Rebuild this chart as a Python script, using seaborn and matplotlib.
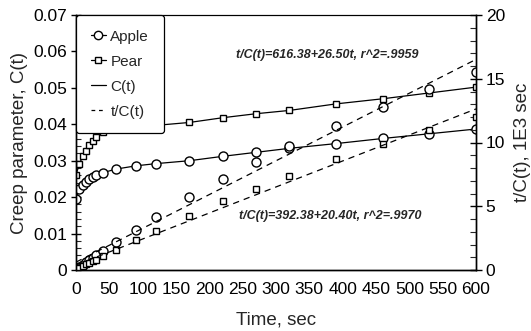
import numpy as np
import pandas as pd
import matplotlib
matplotlib.use("Agg")
import matplotlib.pyplot as plt
import seaborn as sns
from matplotlib.lines import Line2D
from matplotlib.ticker import MultipleLocator

sns.set_theme(style="white")
plt.rcParams['font.family'] = ['Liberation Sans', 'DejaVu Sans']

time_s = [0, 5, 10, 15, 20, 25, 30, 40, 60, 90, 120, 170, 220, 270, 320, 390, 460, 530, 600]
apple_c = [0.0195, 0.0222, 0.0233, 0.0242, 0.0249, 0.0255, 0.0260, 0.0267, 0.0277, 0.0286,
           0.0292, 0.0300, 0.0312, 0.0323, 0.0334, 0.0347, 0.0361, 0.0374, 0.0387]
pear_c = [0.0262, 0.0290, 0.0313, 0.0328, 0.0342, 0.0355, 0.0365, 0.0378, 0.0387, 0.0392,
          0.0397, 0.0405, 0.0418, 0.0429, 0.0438, 0.0456, 0.0470, 0.0486, 0.0502]
apple_tc = [0, 0.23, 0.43, 0.62, 0.80, 0.98, 1.15, 1.50, 2.2, 3.15, 4.15, 5.7, 7.15, 8.5,
            9.7, 11.3, 12.8, 14.2, 15.5]
pear_tc = [0, 0.17, 0.32, 0.46, 0.58, 0.70, 0.82, 1.06, 1.55, 2.35, 3.05, 4.2, 5.4, 6.35,
           7.35, 8.7, 9.85, 11.0, 12.0]
fit_names = ["Apple", "Pear"]
fit_intercepts = [616.38, 392.38]
fit_slopes = [26.50, 20.40]
fit_labels = ["t/C(t)=616.38+26.50t, r^2=.9959", "t/C(t)=392.38+20.40t, r^2=.9970"]
x_ticks = [0, 50, 100, 150, 200, 250, 300, 350, 400, 450, 500, 550, 600]
y_ticks = [0, 0.01, 0.02, 0.03, 0.04, 0.05, 0.06, 0.07]
y_tick_labels = ["0", "0.01", "0.02", "0.03", "0.04", "0.05", "0.06", "0.07"]
y2_ticks = [0, 5, 10, 15, 20]

df = pd.DataFrame({
    "t": time_s * 2,
    "C": apple_c + pear_c,
    "tC": apple_tc + pear_tc,
    "fruit": ["Apple"] * len(time_s) + ["Pear"] * len(time_s),
})
tfit = np.array([0, 600])
fit_df = pd.DataFrame({
    "t": np.concatenate([tfit, tfit]),
    "y": np.concatenate([(fit_intercepts[i] + fit_slopes[i] * tfit) / 1000 for i in range(2)]),
    "fruit": ["Apple", "Apple", "Pear", "Pear"],
})

fig = plt.figure(figsize=(5.31, 3.31), dpi=100)
ax = fig.add_axes([76 / 531, 1 - 270 / 331, (476 - 76) / 531, (270 - 15) / 331])
ax2 = ax.twinx()

markers = {"Apple": "o", "Pear": "s"}
sizes = {"Apple": 6.5, "Pear": 3.8}
for f in fit_names:
    sub = df[df.fruit == f]
    sns.lineplot(data=sub, x="t", y="C", ax=ax, color="black", lw=0.9, marker=markers[f],
                 markersize=sizes[f], markerfacecolor="white", markeredgecolor="black",
                 markeredgewidth=1.0, legend=False)
    sns.lineplot(data=sub, x="t", y="tC", ax=ax2, color="black", lw=0, marker=markers[f],
                 markersize=sizes[f], markerfacecolor="white", markeredgecolor="black",
                 markeredgewidth=1.0, legend=False)
    fsub = fit_df[fit_df.fruit == f]
    sns.lineplot(data=fsub, x="t", y="y", ax=ax2, color="black", lw=0.9, legend=False,
                 linestyle=(0, (5, 4)))

ax.set_xlim(0, 600)
ax.set_ylim(0, 0.07)
ax2.set_ylim(0, 20)
ax.set_xticks(x_ticks)
ax.xaxis.set_minor_locator(MultipleLocator(10))
ax.set_yticks(y_ticks)
ax.set_yticklabels(y_tick_labels)
ax.yaxis.set_minor_locator(MultipleLocator(0.002))
ax2.set_yticks(y2_ticks)
ax2.yaxis.set_minor_locator(MultipleLocator(1))

fs = 12.5
ax.tick_params(axis="y", which="major", direction="inout", length=7, width=1,
               labelsize=fs, colors="black", pad=3, right=False)
ax.tick_params(axis="y", which="minor", direction="in", length=3.5, width=0.8, right=False)
ax.tick_params(axis="x", which="major", direction="in", length=5, width=1,
               labelsize=fs, colors="black", pad=9, top=False)
ax.tick_params(axis="x", which="minor", direction="in", length=3, width=0.8, top=False)
ax2.tick_params(axis="y", which="major", direction="inout", length=8, width=1,
                labelsize=fs, colors="black", pad=3)
ax2.tick_params(axis="y", which="minor", direction="in", length=4, width=0.8)
ax2.tick_params(axis="x", which="both", bottom=False, top=False)

for a in (ax, ax2):
    for s in a.spines.values():
        s.set_color("black")
        s.set_linewidth(1.0)
    a.spines["top"].set_linewidth(0.8)

ax.set_xlabel("Time, sec", fontsize=13.5, labelpad=10)
ax.set_ylabel("Creep parameter, C(t)", fontsize=13.5, labelpad=4)
ax2.set_ylabel("t/C(t), 1E3 sec", fontsize=13.5, labelpad=6)

ax2.text(0.628, 0.843, fit_labels[0], transform=ax.transAxes, fontsize=9,
         fontstyle="italic", fontweight="bold", ha="center", va="center")
ax2.text(0.636, 0.212, fit_labels[1], transform=ax.transAxes, fontsize=9,
         fontstyle="italic", fontweight="bold", ha="center", va="center")

handles = [
    Line2D([], [], color="black", lw=0.9, marker="o", markersize=6.0, markerfacecolor="white"),
    Line2D([], [], color="black", lw=0.9, marker="s", markersize=3.8, markerfacecolor="white"),
    Line2D([], [], color="black", lw=0.9),
    Line2D([], [], color="black", lw=0.9, linestyle=(0, (3, 3))),
]
leg = ax2.legend(handles, ["Apple", "Pear", "C(t)", "t/C(t)"], loc="upper left",
                 bbox_to_anchor=(0, 1), borderaxespad=0, fontsize=11,
                 frameon=True, fancybox=True, edgecolor="black", framealpha=1,
                 handlelength=1.0, handletextpad=0.3, labelspacing=0.72,
                 borderpad=0.95)
leg.get_frame().set_linewidth(0.9)
leg.set_zorder(10)

fig.savefig("out.png", dpi=100)
